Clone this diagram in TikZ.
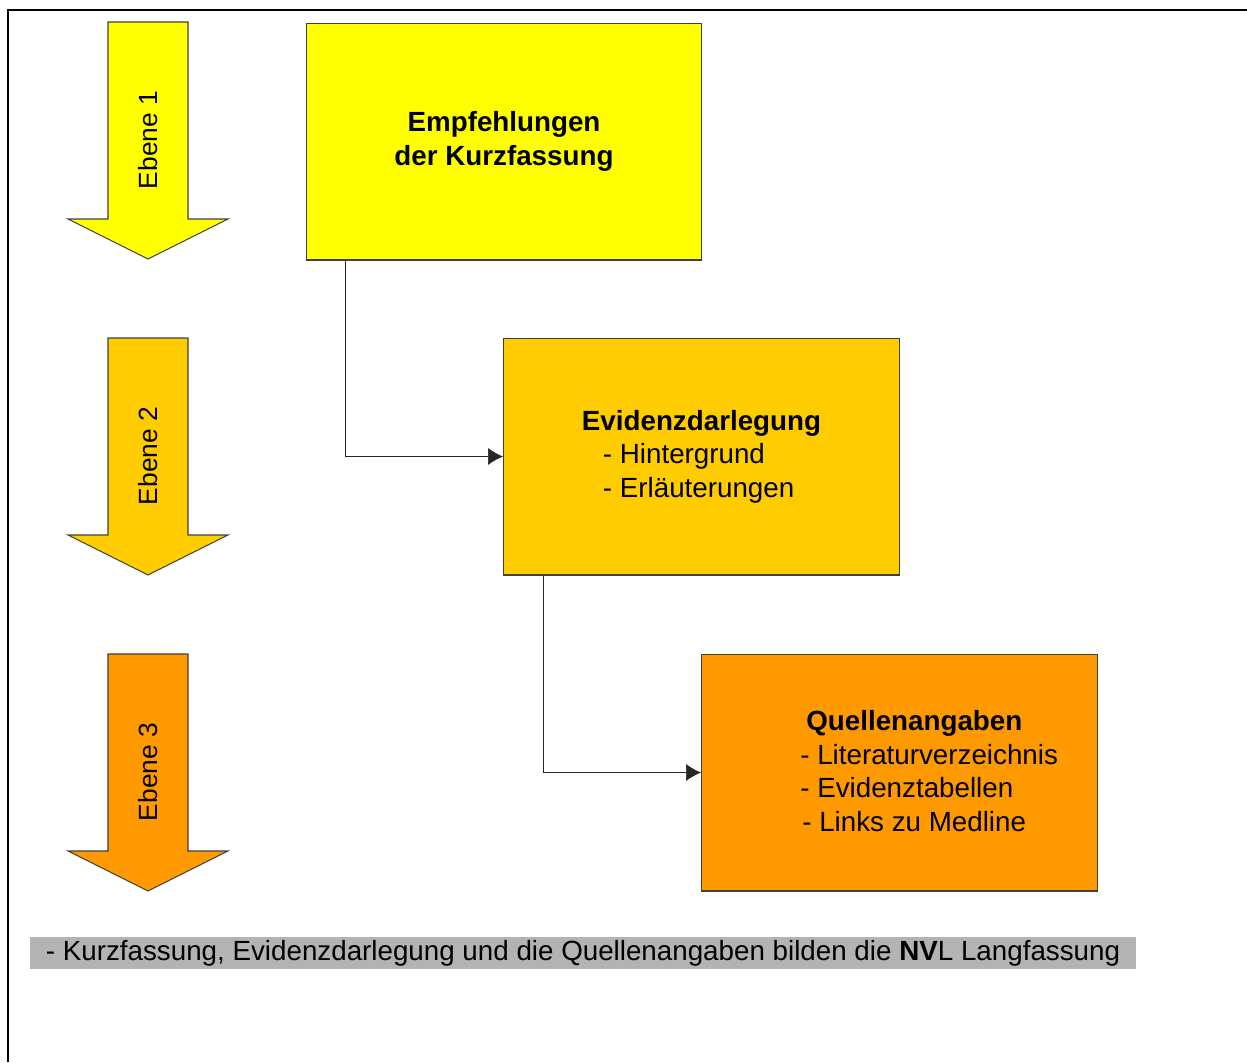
\documentclass[tikz,border=0pt]{standalone}
\usepackage{fontspec}
\setmainfont{Liberation Sans}
\usetikzlibrary{arrows.meta}

\definecolor{levelA}{HTML}{FFFF00}
\definecolor{levelB}{HTML}{FFCC00}
\definecolor{levelC}{HTML}{FF9900}
\definecolor{rim}{HTML}{404040}
\definecolor{notegray}{HTML}{B3B3B3}
\newcommand\boxfont{\fontsize{15.8}{19}\selectfont}

\begin{document}
\begin{tikzpicture}[x=0.02cm, y=-0.02cm, font=\boxfont, >={Latex[length=0.3cm,width=0.34cm]},
    levelbox/.style={draw=rim, line width=0.6pt, minimum width=7.92cm, minimum height=4.74cm, inner sep=0pt}]
    \useasboundingbox (0,0) rectangle (1247,1062);
    \draw[line width=1.1pt] (8,1062) -- (8,10) -- (1247,10);

    \foreach \N/\Y/\C in { 1/22/levelA,
                           2/338/levelB,
                           3/654/levelC} {
        \draw[draw=rim, line width=0.6pt, fill=\C] (108,\Y) -- (188,\Y) -- (188,\Y+197) -- (228,\Y+197)
            -- (148,\Y+237) -- (68,\Y+197) -- (108,\Y+197) -- cycle;
        \node[rotate=90, font=\fontsize{15}{18}\selectfont](ebene\N) at (148,\Y+118) {Ebene \N};
        }

        \node[levelbox, fill=levelA, align=center, font=\boxfont\bfseries](kurz) at (504,141.5) {Empfehlungen\\der Kurzfassung};
        \node[levelbox, fill=levelB, align=left](evid) at (701.5,456.5)
            {\textbf{Evidenzdarlegung}\\\hspace*{0.42cm}- Hintergrund\\\hspace*{0.42cm}- Erläuterungen};
        \node[levelbox, fill=levelC](quell) at (899.5,772.5) {};
        \node[align=left, anchor=west, inner sep=0pt](quelltext) at (800,771)
            {\hspace*{0.12cm}\textbf{Quellenangaben}\\- Literaturverzeichnis\\- Evidenztabellen\\\hspace*{0.04cm}- Links zu Medline};

        \draw[->, draw=black!85] ([xshift=0.8cm]kurz.south west) |- (evid.west);
        \draw[->, draw=black!85] ([xshift=0.8cm]evid.south west) |- (quell.west);

        \node[fill=notegray, minimum width=22.12cm, minimum height=0.64cm, inner sep=0pt](fazit) at (583,953)
            {- Kurzfassung, Evidenzdarlegung und die Quellenangaben bilden die \textbf{NV}L Langfassung};
\end{tikzpicture}
\end{document}
